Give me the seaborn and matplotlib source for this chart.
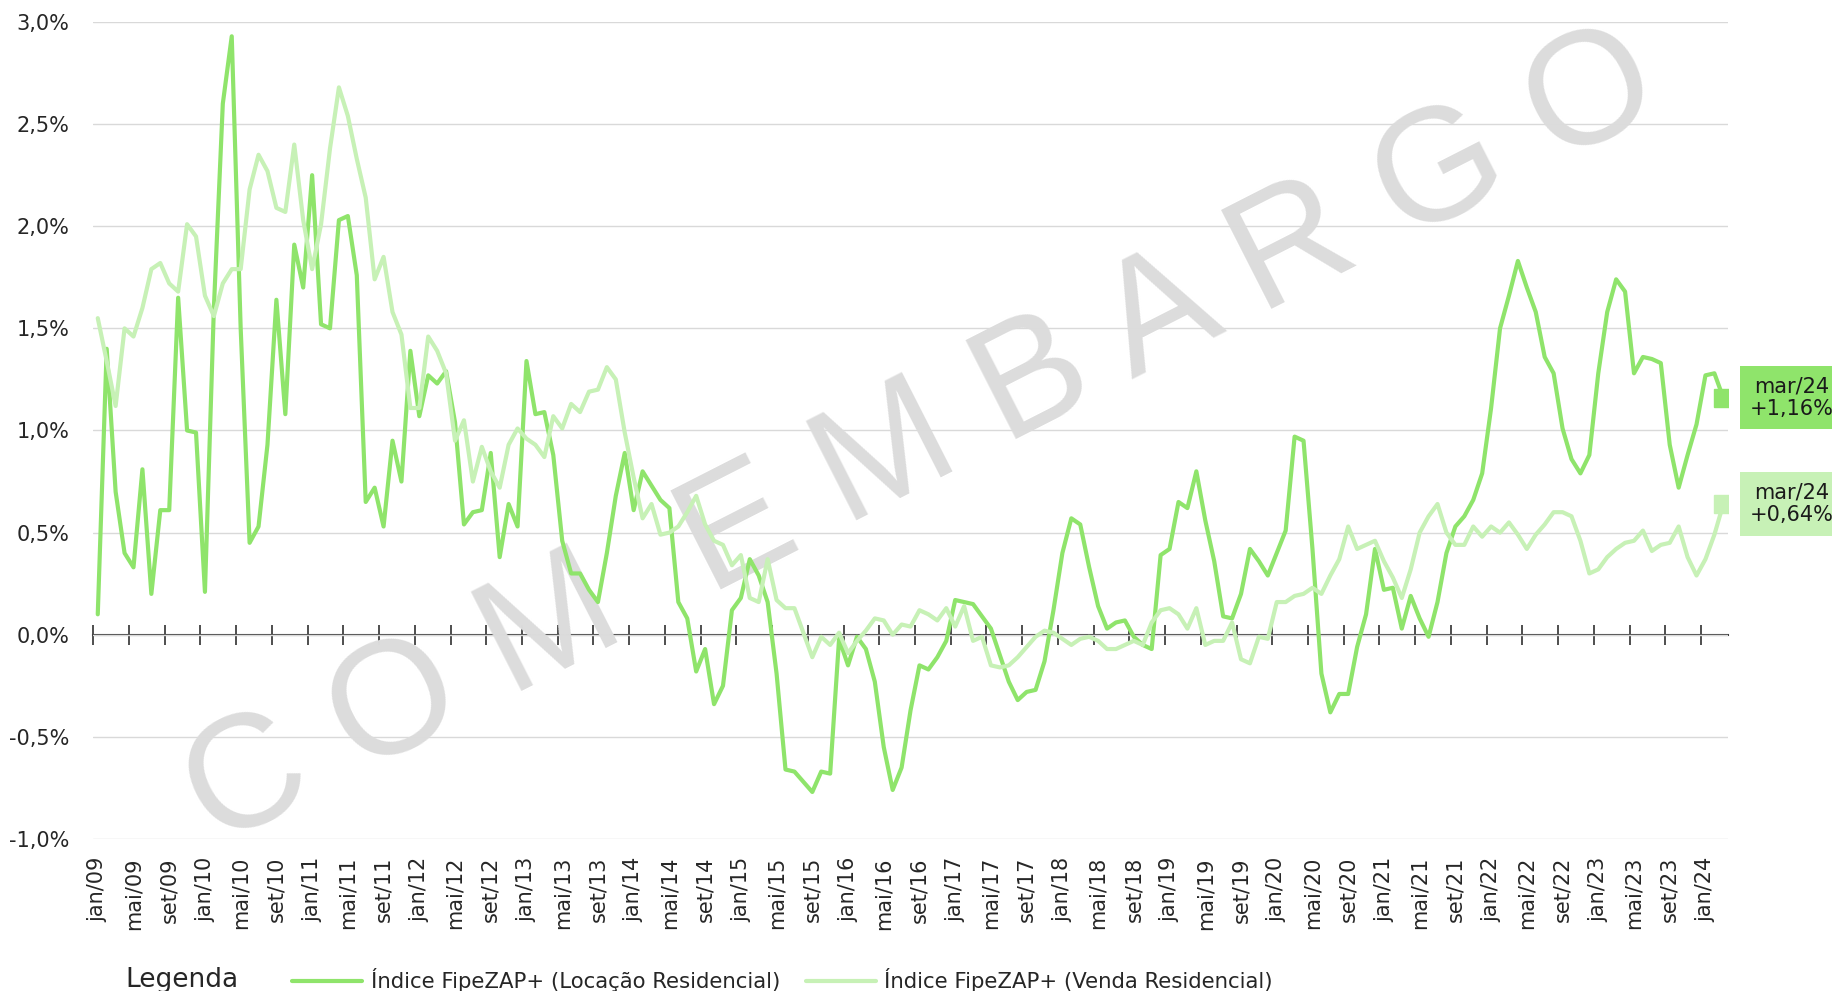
import numpy as np
import pandas as pd
import matplotlib
matplotlib.use('Agg')
import matplotlib.pyplot as plt
import seaborn as sns

# categorias (meses)
meses = ['jan', 'fev', 'mar', 'abr', 'mai', 'jun', 'jul', 'ago', 'set', 'out', 'nov', 'dez']
periodos = [f'{m}/{a:02d}' for a in range(9, 25) for m in meses][:183]

# Índice FipeZAP+ (Locação Residencial) - variação mensal (%)
locacao = [
    0.10, 1.40, 0.70, 0.40, 0.33, 0.81, 0.20, 0.61, 0.61, 1.65, 1.00, 0.99,
    0.21, 1.60, 2.60, 2.93, 1.50, 0.45, 0.53, 0.93, 1.64, 1.08, 1.91, 1.70,
    2.25, 1.52, 1.50, 2.03, 2.05, 1.76, 0.65, 0.72, 0.53, 0.95, 0.75, 1.39,
    1.07, 1.27, 1.23, 1.29, 1.04, 0.54, 0.60, 0.61, 0.89, 0.38, 0.64, 0.53,
    1.34, 1.08, 1.09, 0.88, 0.46, 0.30, 0.30, 0.22, 0.16, 0.40, 0.68, 0.89,
    0.61, 0.80, 0.73, 0.66, 0.62, 0.16, 0.08, -0.18, -0.07, -0.34, -0.25, 0.12,
    0.18, 0.37, 0.29, 0.16, -0.19, -0.66, -0.67, -0.72, -0.77, -0.67, -0.68, -0.02,
    -0.15, -0.01, -0.07, -0.23, -0.55, -0.76, -0.65, -0.37, -0.15, -0.17, -0.11, -0.03,
    0.17, 0.16, 0.15, 0.09, 0.03, -0.10, -0.23, -0.32, -0.28, -0.27, -0.13, 0.12,
    0.40, 0.57, 0.54, 0.33, 0.14, 0.03, 0.06, 0.07, -0.01, -0.05, -0.07, 0.39,
    0.42, 0.65, 0.62, 0.80, 0.56, 0.36, 0.09, 0.08, 0.20, 0.42, 0.36, 0.29,
    0.40, 0.51, 0.97, 0.95, 0.42, -0.19, -0.38, -0.29, -0.29, -0.06, 0.10, 0.42,
    0.22, 0.23, 0.03, 0.19, 0.08, -0.01, 0.16, 0.40, 0.53, 0.58, 0.66, 0.79,
    1.11, 1.50, 1.66, 1.83, 1.70, 1.58, 1.36, 1.28, 1.01, 0.86, 0.79, 0.88,
    1.28, 1.58, 1.74, 1.68, 1.28, 1.36, 1.35, 1.33, 0.93, 0.72, 0.88, 1.03,
    1.27, 1.28, 1.16,
]

# Índice FipeZAP+ (Venda Residencial) - variação mensal (%)
venda = [
    1.55, 1.34, 1.12, 1.50, 1.46, 1.60, 1.79, 1.82, 1.72, 1.68, 2.01, 1.95,
    1.66, 1.56, 1.72, 1.79, 1.79, 2.18, 2.35, 2.27, 2.09, 2.07, 2.40, 2.03,
    1.79, 2.01, 2.38, 2.68, 2.54, 2.33, 2.14, 1.74, 1.85, 1.58, 1.47, 1.11,
    1.11, 1.46, 1.39, 1.28, 0.95, 1.05, 0.75, 0.92, 0.80, 0.72, 0.93, 1.01,
    0.96, 0.93, 0.87, 1.07, 1.01, 1.13, 1.09, 1.19, 1.20, 1.31, 1.25, 0.99,
    0.77, 0.57, 0.64, 0.49, 0.50, 0.53, 0.60, 0.68, 0.54, 0.46, 0.44, 0.34,
    0.39, 0.18, 0.16, 0.37, 0.17, 0.13, 0.13, 0.01, -0.11, -0.01, -0.05, 0.01,
    -0.09, -0.03, 0.02, 0.08, 0.07, 0.00, 0.05, 0.04, 0.12, 0.10, 0.07, 0.13,
    0.04, 0.14, -0.03, -0.01, -0.15, -0.16, -0.15, -0.11, -0.06, -0.01, 0.02, 0.01,
    -0.02, -0.05, -0.02, -0.01, -0.03, -0.07, -0.07, -0.05, -0.03, -0.05, 0.06, 0.12,
    0.13, 0.10, 0.03, 0.13, -0.05, -0.03, -0.03, 0.06, -0.12, -0.14, -0.01, -0.02,
    0.16, 0.16, 0.19, 0.20, 0.23, 0.20, 0.29, 0.37, 0.53, 0.42, 0.44, 0.46,
    0.36, 0.28, 0.18, 0.32, 0.50, 0.58, 0.64, 0.50, 0.44, 0.44, 0.53, 0.48,
    0.53, 0.50, 0.55, 0.49, 0.42, 0.49, 0.54, 0.60, 0.60, 0.58, 0.46, 0.30,
    0.32, 0.38, 0.42, 0.45, 0.46, 0.51, 0.41, 0.44, 0.45, 0.53, 0.38, 0.29,
    0.37, 0.49, 0.64,
]

series = ['Índice FipeZAP+ (Locação Residencial)', 'Índice FipeZAP+ (Venda Residencial)']
cores = ['#8FE46B', '#C7F1B6']

assert len(locacao) == len(periodos) == len(venda)

df = pd.DataFrame({
    'idx': list(range(len(periodos))) * 2,
    'valor': locacao + venda,
    'serie': [series[0]] * len(locacao) + [series[1]] * len(venda),
})

sns.set_style('white')
plt.rcParams['font.family'] = ['DejaVu Sans']

fig = plt.figure(figsize=(18.33, 9.91), dpi=100)
ax = fig.add_axes([0.0509, 0.1534, 0.8917, 0.8244])

sns.lineplot(data=df, x='idx', y='valor', hue='serie', palette=cores,
             linewidth=3, ax=ax, solid_joinstyle='round', zorder=3)

# marcadores do último ponto
n = len(periodos) - 1
for vals, cor in zip([locacao, venda], cores):
    ax.plot([n], [vals[-1]], marker='s', markersize=13, color=cor,
            linestyle='none', zorder=4)
    ax.annotate(f'{periodos[-1]}\n{vals[-1]:+.2f}%'.replace('.', ','),
                xy=(1.0393, vals[-1]), xycoords=ax.get_yaxis_transform(),
                ha='center', va='center', fontsize=15, color='#1a1a1a',
                linespacing=1.15, annotation_clip=False,
                bbox=dict(boxstyle='square,pad=0.5', fc=cor, ec='none'))

ax.set_xlim(-0.5, n + 0.5)
ax.set_ylim(-1.0, 3.0)
yt = np.arange(-1.0, 3.01, 0.5)
ax.set_yticks(yt)
ax.set_yticklabels([f'{v:.1f}%'.replace('.', ',') for v in yt])
ax.yaxis.grid(True, color='#d9d9d9', linewidth=1)
ax.xaxis.grid(False)
ax.set_axisbelow(True)
for s in ax.spines.values():
    s.set_visible(False)

ax.set_xticks(range(0, len(periodos), 4))
ax.set_xticklabels(periodos[::4], rotation=90)
ax.tick_params(axis='x', length=0, pad=13, labelsize=15, labelcolor='#262626')
ax.tick_params(axis='y', length=0, pad=17, labelsize=15, labelcolor='#262626')
ax.set_xlabel('')
ax.set_ylabel('')

# eixo horizontal no zero com marcas a cada 4 meses
sec = ax.secondary_xaxis(0.25)
sec.set_xticks(np.arange(-0.5, n + 0.5, 4))
sec.tick_params(direction='inout', length=14, width=1.3, color='#404040',
                labelbottom=False, labeltop=False)
for s in sec.spines.values():
    s.set_color('#404040')
    s.set_linewidth(1.5)

# legenda
handles, labels = ax.get_legend_handles_labels()
ax.get_legend().remove()
fig.legend(handles, labels, loc='center left', bbox_to_anchor=(292 / 1833, 1 - 980 / 991),
           ncol=2, frameon=False, fontsize=15.3, handlelength=3.3, handletextpad=0.4,
           columnspacing=1.2, borderaxespad=0, borderpad=0, labelcolor='#262626')
fig.text(125 / 1833, 1 - 980 / 991, 'Legenda', fontsize=19, va='center', ha='left',
         color='#262626')

# marca d'água
ax.text(0.503, 0.556, 'C O M  E M B A R G O', transform=fig.transFigure, rotation=27,
        rotation_mode='anchor', ha='center', va='center', fontsize=116,
        color='#dcdcdc', family='Liberation Sans', zorder=1, clip_on=False)

fig.savefig('out.png', dpi=100)
